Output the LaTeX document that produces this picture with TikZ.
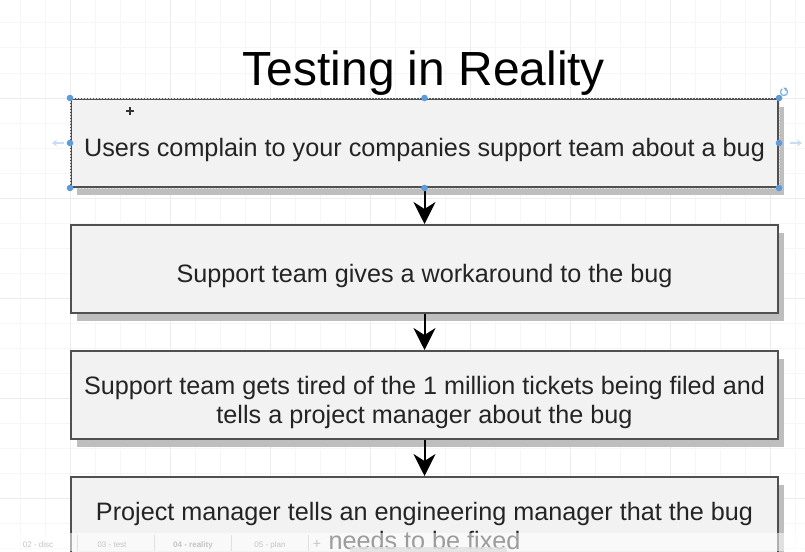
\documentclass[tikz,border=0pt]{standalone}
\usepackage{fontspec}
\setmainfont{Liberation Sans}
\usetikzlibrary{arrows.meta,shadows}
\definecolor{boxfill}{HTML}{F2F2F2}
\definecolor{boxline}{HTML}{505050}
\definecolor{shadowc}{HTML}{BEBEBE}
\definecolor{selblue}{HTML}{5B9BDE}
\definecolor{hoverblue}{HTML}{C8DDF5}
\definecolor{textc}{HTML}{242424}
\definecolor{gridminor}{HTML}{F6F6F6}
\definecolor{gridmajor}{HTML}{ECECEC}
\definecolor{tabtext}{HTML}{C4C4C4}
\tikzset{
  stepbox/.style={draw=boxline, line width=2pt, fill=boxfill, rectangle,
    minimum width=707pt, minimum height=88pt, inner sep=0pt,
    align=center, text=textc, font=\fontsize{25.2}{29}\selectfont,
    drop shadow={shadow xshift=6pt, shadow yshift=-8pt, fill=shadowc, opacity=1}},
  oneline/.style={text height=26pt, text depth=0pt},
  twoline/.style={text height=56pt, text depth=0pt},
  flow/.style={line width=2pt, draw=black, -{Stealth[length=22pt,width=22pt,inset=7pt]}},
  handle/.style={fill=selblue, draw=none},
  tablabel/.style={text=tabtext, font=\fontsize{8}{9}\selectfont, anchor=base}
}
\begin{document}
\begin{tikzpicture}[x=1pt,y=-1pt]
\useasboundingbox (0,0) rectangle (805,551);
\clip (0,0) rectangle (805,551);
\fill[white] (0,0) rectangle (805,551);
% grid
\foreach \x in {20.5,45.5,95.5,120.5,145.5,195.5,220.5,245.5,295.5,320.5,345.5,395.5,420.5,445.5,495.5,520.5,545.5,595.5,620.5,645.5,695.5,720.5,745.5,795.5}
  \draw[gridminor, line width=1pt] (\x,0) -- (\x,551);
\foreach \y in {23,48,73,123,148,173,223,248,273,323,348,373,423,448,473,523,548}
  \draw[gridminor, line width=1pt] (0,\y) -- (805,\y);
\foreach \x in {70.5,170.5,270.5,370.5,470.5,570.5,670.5,770.5}
  \draw[gridmajor, line width=1pt] (\x,0) -- (\x,551);
\foreach \y in {98,198,298,398,498}
  \draw[gridmajor, line width=1pt] (0,\y) -- (805,\y);

% title
\node[anchor=base, font=\fontsize{47.9}{50}\selectfont, text=black, inner sep=0pt] (title) at (424,85) {Testing in Reality};

% boxes
\node[stepbox, oneline] (b1) at (424.5,143) {Users complain to your companies support team about a bug};
\node[stepbox, oneline] (b2) at (424.5,269) {Support team gives a workaround to the bug};
\node[stepbox, twoline] (b3) at (424.5,395) {Support team gets tired of the 1 million tickets being filed and\\tells a project manager about the bug};
\node[stepbox, twoline] (b4) at (424.5,521) {Project manager tells an engineering manager that the bug\\needs to be fixed};

% selection overlay on first box
\draw[white!75!gray, line width=0.8pt, dash pattern=on 1.5pt off 1.5pt] (b1.north west) rectangle (b1.south east);

% connectors
\draw[flow] (b1.south) -- (b2.north);
\draw[flow] (b2.south) -- (b3.north);
\draw[flow] (b3.south) -- (b4.north);

% selection handles
\foreach \a in {north west,north,north east,west,east,south west,south,south east}
  \fill[handle] (b1.\a) circle (3.3pt);
% hover arrows
\coordinate (hl1) at (64,143); \coordinate (hl2) at (52,143);
\coordinate (hr1) at (790,143); \coordinate (hr2) at (802,143);
\draw[hoverblue, line width=1.6pt, -{Stealth[length=5pt,width=7pt]}] (hl1) -- (hl2);
\draw[hoverblue, line width=1.6pt, -{Stealth[length=5pt,width=7pt]}] (hr1) -- (hr2);
% rotate handle
\coordinate (rot) at (784,92);
\draw[selblue!80!white, line width=1.2pt] ([shift={(60:3.5pt)}]rot) arc[start angle=60, end angle=-240, radius=3.5pt];
\fill[selblue!80!white] ([shift={(60:3.5pt)}]rot) ++(-2.5,-1.5) -- ++(3.5,0.5) -- ++(-1,3) -- cycle;
% cursor
\coordinate (cur) at (130,111);
\draw[black!80, line width=1.6pt] ([xshift=-4pt]cur) -- ([xshift=4pt]cur);
\draw[black!80, line width=1.6pt] ([yshift=-4pt]cur) -- ([yshift=4pt]cur);

% bottom tab bar of the editor
\fill[white, opacity=0.55] (0,533) rectangle (805,551);
\foreach \x in {77,154,231,308}
  \draw[tabtext!50!white, line width=0.6pt] (\x,535) -- (\x,551);
\node[tablabel] (t1) at (38,547) {02 - disc};
\node[tablabel] (t2) at (112,547) {03 - test};
\node[tablabel, font=\fontsize{8}{9}\selectfont\bfseries] (t3) at (193,547) {04 - reality};
\node[tablabel] (t4) at (270,547) {05 - plan};
\node[tablabel, font=\fontsize{14}{14}\selectfont] (t5) at (317,548) {+};
\fill[black!12, opacity=0.8, rounded corners=2pt] (350,547) rectangle (507,553);
\end{tikzpicture}
\end{document}
